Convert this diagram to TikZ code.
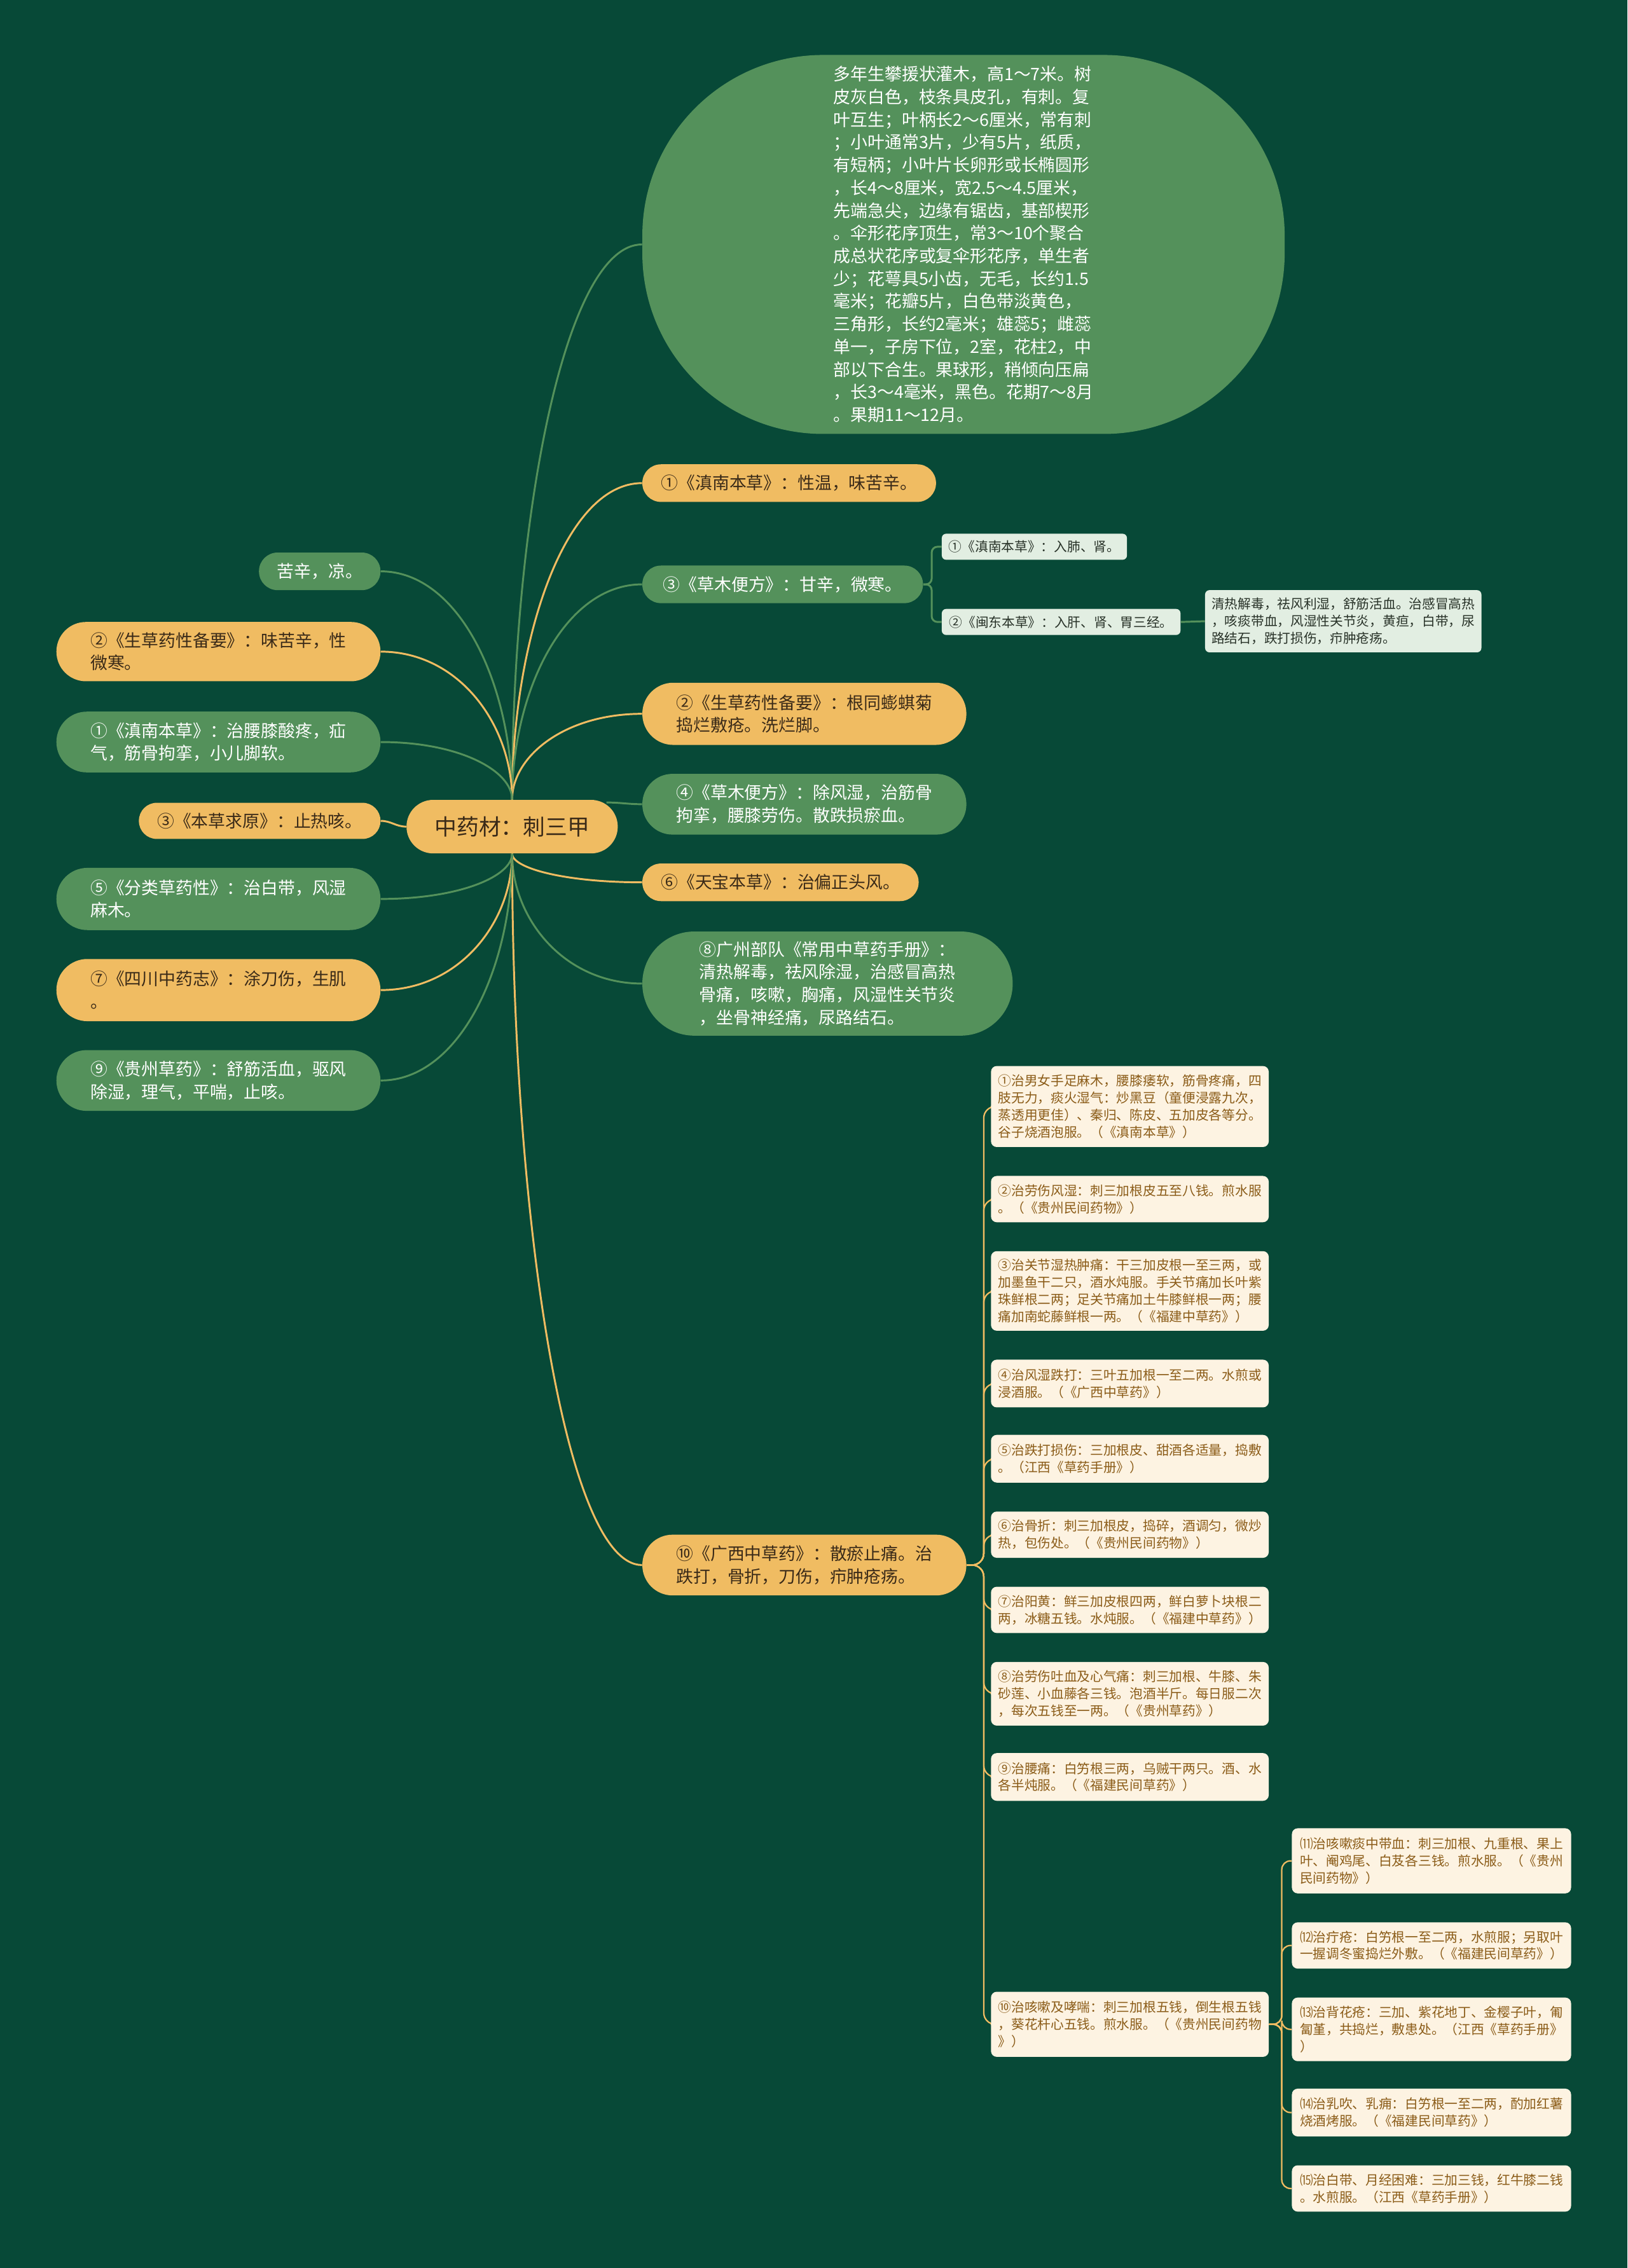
\documentclass[tikz,border=0pt]{standalone}
\usepackage{fontspec}
\setmainfont{Noto Sans CJK SC}
\usetikzlibrary{calc}
\pgfdeclarelayer{bgfill}
\pgfdeclarelayer{links}
\pgfsetlayers{bgfill,links,main}
\definecolor{bg}{RGB}{7,73,55}
\definecolor{gnode}{RGB}{84,145,91}
\definecolor{onode}{RGB}{240,188,98}
\definecolor{otext}{RGB}{58,42,24}
\definecolor{lnode}{RGB}{226,238,226}
\definecolor{ltext}{RGB}{40,50,40}
\definecolor{cnode}{RGB}{253,243,226}
\definecolor{ctext}{RGB}{139,92,24}
\newcommand\fsRoot{\fontsize{15.3}{18}\selectfont}
\newcommand\fsM{\fontsize{11.8}{15.7}\selectfont}
\newcommand\fsS{\fontsize{9.1}{11.8}\selectfont}
\newcommand\mmcurve[3]{\draw[#1] (#2) .. controls ($(#2)!0.5!(#2|-#3)$) and ($(#3)!0.6!(#2|-#3)$) .. (#3);}
\tikzset{
  base/.style={inner sep=0pt, align=left},
  gpill/.style n args={3}{base, fill=gnode, text=white, font=\fsM, minimum width=#1, minimum height=#2, rounded corners=#3},
  opill/.style n args={3}{base, fill=onode, text=otext, font=\fsM, minimum width=#1, minimum height=#2, rounded corners=#3},
  lbox/.style 2 args={base, fill=lnode, text=ltext, font=\fsS, minimum width=#1, minimum height=#2, rounded corners=3pt},
  cbox/.style={base, fill=cnode, text=ctext, font=\fsS, minimum width=192pt, minimum height=#1, rounded corners=4pt},
  dbox/.style={base, fill=cnode, text=ctext, font=\fsS, minimum width=193pt, minimum height=#1, rounded corners=4pt},
  gline/.style={draw=gnode, line width=1.3pt},
  oline/.style={draw=onode, line width=1.3pt},
  cline/.style={draw=onode, line width=1pt},
}
\begin{document}
\begin{tikzpicture}[x=1pt,y=-1pt]
\begin{pgfonlayer}{bgfill}
\fill[bg] (0,0) rectangle (1125,1568);
\end{pgfonlayer}
\useasboundingbox (0,0) rectangle (1125,1568);

% root
\node[opill={146pt}{37pt}{18.4pt}, font=\fsRoot] (root) at (354,571.5) {中药材：刺三甲};

% right side
\node[base, fill=gnode, minimum width=444pt, minimum height=262pt, rounded corners=125pt] (big) at (666,169) {};
\node[base, text=white, font=\fsM] (bigt) at (big.center) {多年生攀援状灌木，高1～7米。树\\皮灰白色，枝条具皮孔，有刺。复\\叶互生；叶柄长2～6厘米，常有刺\\；小叶通常3片，少有5片，纸质，\\有短柄；小叶片长卵形或长椭圆形\\，长4～8厘米，宽2.5～4.5厘米，\\先端急尖，边缘有锯齿，基部楔形\\。伞形花序顶生，常3～10个聚合\\成总状花序或复伞形花序，单生者\\少；花萼具5小齿，无毛，长约1.5\\毫米；花瓣5片，白色带淡黄色，\\三角形，长约2毫米；雄蕊5；雌蕊\\单一，子房下位，2室，花柱2，中\\部以下合生。果球形，稍倾向压扁\\，长3～4毫米，黑色。花期7～8月\\。果期11～12月。};

\node[opill={203pt}{26pt}{12.9pt}] (r1) at (545.5,334) {①《滇南本草》：性温，味苦辛。};
\node[gpill={194pt}{26pt}{12.9pt}] (r3) at (541,404) {③《草木便方》：甘辛，微寒。};
\node[lbox={128pt}{18pt}] (r3a) at (715,378) {①《滇南本草》：入肺、肾。};
\node[lbox={165pt}{18pt}] (r3b) at (733.5,430) {②《闽东本草》：入肝、肾、胃三经。};
\node[lbox={191pt}{43pt}] (r3c) at (928.5,429.5) {清热解毒，祛风利湿，舒筋活血。治感冒高热\\，咳痰带血，风湿性关节炎，黄疸，白带，尿\\路结石，跌打损伤，疖肿疮疡。};
\node[opill={224pt}{43pt}{21.4pt}] (r2) at (556,493.5) {②《生草药性备要》：根同蟛蜞菊\\捣烂敷疮。洗烂脚。};
\node[gpill={224pt}{42pt}{20.9pt}] (r4) at (556,556) {④《草木便方》：除风湿，治筋骨\\拘挛，腰膝劳伤。散跌损瘀血。};
\node[opill={191pt}{26pt}{12.9pt}] (r6) at (539.5,610) {⑥《天宝本草》：治偏正头风。};
\node[gpill={256pt}{72pt}{35.9pt}] (r8) at (572,680) {⑧广州部队《常用中草药手册》：\\清热解毒，祛风除湿，治感冒高热\\骨痛，咳嗽，胸痛，风湿性关节炎\\，坐骨神经痛，尿路结石。};
\node[opill={224pt}{42pt}{20.9pt}] (r10) at (556,1082) {⑩《广西中草药》：散瘀止痛。治\\跌打，骨折，刀伤，疖肿疮疡。};

% left side
\node[gpill={84pt}{26pt}{12.9pt}] (l1) at (221,395) {苦辛，凉。};
\node[opill={224pt}{41pt}{20.4pt}] (l2) at (151,450.5) {②《生草药性备要》：味苦辛，性\\微寒。};
\node[gpill={224pt}{42pt}{20.9pt}] (l3) at (151,513) {①《滇南本草》：治腰膝酸疼，疝\\气，筋骨拘挛，小儿脚软。};
\node[opill={167pt}{25pt}{12.4pt}] (l4) at (179.5,567.5) {③《本草求原》：止热咳。};
\node[gpill={224pt}{43pt}{21.4pt}] (l5) at (151,621.5) {⑤《分类草药性》：治白带，风湿\\麻木。};
\node[opill={224pt}{43pt}{21.4pt}] (l6) at (151,684.5) {⑦《四川中药志》：涂刀伤，生肌\\。};
\node[gpill={224pt}{42pt}{20.9pt}] (l7) at (151,747) {⑨《贵州草药》：舒筋活血，驱风\\除湿，理气，平喘，止咳。};

% children of r10
\node[cbox=56pt] (c1) at (781,765) {①治男女手足麻木，腰膝痿软，筋骨疼痛，四\\肢无力，痰火湿气：炒黑豆（童便浸露九次，\\蒸透用更佳）、秦归、陈皮、五加皮各等分。\\谷子烧酒泡服。（《滇南本草》）};
\node[cbox=32pt] (c2) at (781,829) {②治劳伤风湿：刺三加根皮五至八钱。煎水服\\。（《贵州民间药物》）};
\node[cbox=55pt] (c3) at (781,892.5) {③治关节湿热肿痛：干三加皮根一至三两，或\\加墨鱼干二只，酒水炖服。手关节痛加长叶紫\\珠鲜根二两；足关节痛加土牛膝鲜根一两；腰\\痛加南蛇藤鲜根一两。（《福建中草药》）};
\node[cbox=33pt] (c4) at (781,956.5) {④治风湿跌打：三叶五加根一至二两。水煎或\\浸酒服。（《广西中草药》）};
\node[cbox=33pt] (c5) at (781,1008.5) {⑤治跌打损伤：三加根皮、甜酒各适量，捣敷\\。（江西《草药手册》）};
\node[cbox=32pt] (c6) at (781,1061) {⑥治骨折：刺三加根皮，捣碎，酒调匀，微炒\\热，包伤处。（《贵州民间药物》）};
\node[cbox=32pt] (c7) at (781,1113) {⑦治阳黄：鲜三加皮根四两，鲜白萝卜块根二\\两，冰糖五钱。水炖服。（《福建中草药》）};
\node[cbox=44pt] (c8) at (781,1171) {⑧治劳伤吐血及心气痛：刺三加根、牛膝、朱\\砂莲、小血藤各三钱。泡酒半斤。每日服二次\\，每次五钱至一两。（《贵州草药》）};
\node[cbox=33pt] (c9) at (781,1228.5) {⑨治腰痛：白竻根三两，乌贼干两只。酒、水\\各半炖服。（《福建民间草药》）};
\node[cbox=45pt] (c10) at (781,1399.5) {⑩治咳嗽及哮喘：刺三加根五钱，倒生根五钱\\，葵花杆心五钱。煎水服。（《贵州民间药物\\》）};

% children of c10
\node[dbox=45pt] (d11) at (989.5,1286.5) {⑾治咳嗽痰中带血：刺三加根、九重根、果上\\叶、阉鸡尾、白芨各三钱。煎水服。（《贵州\\民间药物》）};
\node[dbox=32pt] (d12) at (989.5,1345) {⑿治疔疮：白竻根一至二两，水煎服；另取叶\\一握调冬蜜捣烂外敷。（《福建民间草药》）};
\node[dbox=44pt] (d13) at (989.5,1403) {⒀治背花疮：三加、紫花地丁、金樱子叶，匍\\匐堇，共捣烂，敷患处。（江西《草药手册》\\）};
\node[dbox=33pt] (d14) at (989.5,1460.5) {⒁治乳吹、乳痈：白竻根一至二两，酌加红薯\\烧酒烤服。（《福建民间草药》）};
\node[dbox=32pt] (d15) at (989.5,1513) {⒂治白带、月经困难：三加三钱，红牛膝二钱\\。水煎服。（江西《草药手册》）};

\coordinate (t3) at (644,404);
\coordinate (t10) at (680,1082);
\coordinate (t20) at (886,1399.5);

\begin{pgfonlayer}{links}
% from root top
\mmcurve{gline}{root.north}{big.west}
\mmcurve{oline}{root.north}{r1.west}
\mmcurve{gline}{root.north}{r3.west}
\mmcurve{oline}{root.north}{r2.west}
\mmcurve{gline}{root.north}{l1.east}
\mmcurve{oline}{root.north}{l2.east}
\mmcurve{gline}{root.north}{l3.east}
% from root bottom
\mmcurve{oline}{root.south}{r6.west}
\mmcurve{gline}{root.south}{r8.west}
\mmcurve{oline}{root.south}{r10.west}
\mmcurve{gline}{root.south}{l5.east}
\mmcurve{oline}{root.south}{l6.east}
\mmcurve{gline}{root.south}{l7.east}
% sides
\draw[gline] ([xshift=-8pt,yshift=-2pt]root.north east) to[out=0,in=180] (r4.west);
\draw[oline] (root.west) to[out=180,in=0] (l4.east);
% children of r3
\draw[gline, rounded corners=4pt] (r3.east) -- (t3) |- (r3a.west);
\draw[gline, rounded corners=4pt] (r3.east) -- (t3) |- (r3b.west);
\draw[gline] (r3b.east) -- (r3c.west);
% children of r10
\foreach \c in {c1,c2,c3,c4,c5,c6,c7,c8,c9,c10}
  \draw[cline, rounded corners=8pt] (r10.east) -- (t10) |- (\c.west);
\foreach \d in {d11,d12,d13,d14,d15}
  \draw[cline, rounded corners=6pt] (c10.east) -- (t20) |- (\d.west);
\end{pgfonlayer}
\end{tikzpicture}
\end{document}
